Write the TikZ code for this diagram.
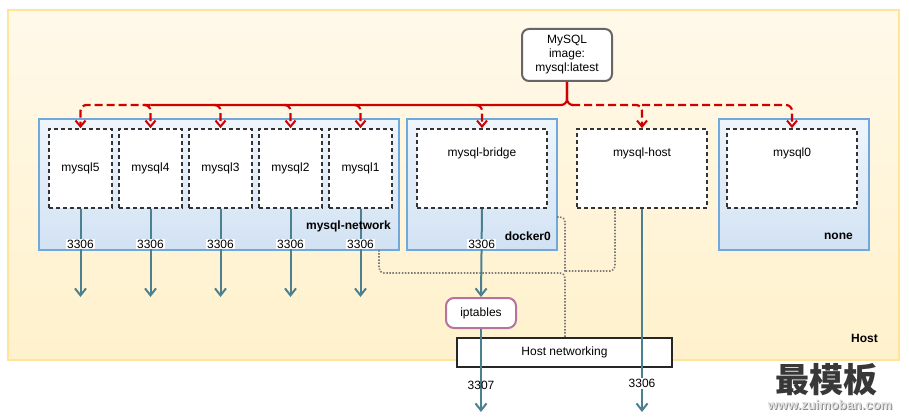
\documentclass[tikz,border=0pt]{standalone}
\usepackage{fontspec}
\setmainfont{Liberation Sans}
\newfontfamily\cjkfont{Noto Sans CJK SC}
\usetikzlibrary{arrows.meta}
\definecolor{hostT}{HTML}{FFF9EA}
\definecolor{hostB}{HTML}{FFF1CC}
\definecolor{hostS}{HTML}{FFE599}
\definecolor{netT}{HTML}{EFF5FC}
\definecolor{netB}{HTML}{D2E2F3}
\definecolor{netS}{HTML}{6FA8DC}
\definecolor{tealc}{HTML}{4A808F}
\definecolor{redc}{HTML}{D00000}
\definecolor{iptc}{HTML}{B5739D}
\definecolor{dotc}{HTML}{7A7A7A}
\begin{document}
\begin{tikzpicture}[x=1pt,y=-1pt,
  font=\fontsize{12}{14}\selectfont,
  hostbox/.style={draw=hostS, line width=2pt, top color=hostT, bottom color=hostB},
  netbox/.style={draw=netS, line width=2.2pt, top color=netT, bottom color=netB},
  ctr/.style={draw=black!80, fill=white, line width=1.8pt, dash pattern=on 4pt off 3pt, minimum width=63pt, minimum height=79pt, inner sep=0pt},
  wctr/.style={ctr, minimum width=130pt},
  boldlbl/.style={font=\fontsize{12}{14}\selectfont\bfseries, inner sep=0pt, anchor=east},
  tealarrow/.style={draw=tealc, line width=2pt, -{Straight Barb[length=7pt,width=11pt,line width=2pt]}},
  portlbl/.style={fill=white, inner sep=1pt, text=black},
  redsolid/.style={draw=redc, line width=2.2pt, rounded corners=6pt},
  reddash/.style={draw=redc, line width=2.2pt, rounded corners=6pt, dash pattern=on 8pt off 4pt, -{Straight Barb[length=6pt,width=10pt,line width=2pt]}},
  dotline/.style={draw=dotc, line width=1.6pt, dash pattern=on 1.5pt off 1.6pt, rounded corners=5pt}
]
\useasboundingbox (0,0) rectangle (909,417);
\fill[white] (0,0) rectangle (909,417);

% Host
\path[hostbox] (8,10) rectangle (899,360);

% network boxes
\path[netbox] (39,119) rectangle (399,250);
\path[netbox] (407,119) rectangle (557,250);
\path[netbox] (719,119) rectangle (869,250);

% containers
\node[ctr] (m5) at (80.5,168.5) {mysql5};
\node[ctr] (m4) at (150.5,168.5) {mysql4};
\node[ctr] (m3) at (220.5,168.5) {mysql3};
\node[ctr] (m2) at (290.5,168.5) {mysql2};
\node[ctr] (m1) at (360.5,168.5) {mysql1};
\node[wctr] (mb) at (482,168.5) {};
\node[inner sep=0pt] (mbl) at (482,153) {mysql-bridge};
\node[wctr] (mh) at (642,168.5) {};
\node[inner sep=0pt] (mhl) at (642,153) {mysql-host};
\node[wctr] (m0) at (792,168.5) {};
\node[inner sep=0pt] (m0l) at (792,153) {mysql0};

% image
\node[draw=black!60, line width=2pt, fill=white, rounded corners=7pt, minimum width=90pt, minimum height=52pt, align=center, inner sep=2pt] (img) at (567,55) {MySQL\\image:\\mysql:latest};

% red edges
\coordinate (bus) at (567,105);
\draw[redsolid] (img.south) -- (bus) -- (150.5,105);
\draw[reddash] (150.5,105) -- (80.5,105) -- (m5.north);
\draw[reddash] (144,105) -- (150.5,105) -- (m4.north);
\draw[reddash] (214,105) -- (220.5,105) -- (m3.north);
\draw[reddash] (284,105) -- (290.5,105) -- (m2.north);
\draw[reddash] (354,105) -- (360.5,105) -- (m1.north);
\draw[reddash] (476,105) -- (482,105) -- (mb.north);
\draw[redsolid] (img.south) -- (567,105) -- (572,105);
\draw[reddash] (572,105) -- (642,105) -- (mh.north);
\draw[reddash] (642,105) -- (792,105) -- (m0.north);

% host networking box
\node[draw=black!85, line width=2pt, fill=white, minimum width=215pt, minimum height=29pt, inner sep=0pt] (hn) at (564.5,352.5) {Host networking};

% iptables
\node[draw=iptc, line width=2pt, fill=white, rounded corners=8pt, minimum width=70pt, minimum height=30pt, inner sep=0pt] (ipt) at (481,313) {iptables};

% dotted lines
\coordinate (dj) at (565,273);
\draw[dotline] (379,250) -- (379,273) -- (565,273) -- (hn.north -| 565,0);
\draw[dotline] (557,217) -- (565,217) -- (565,273);
\draw[dotline] (615,208) -- (615,271) -- (565,271);

% teal arrows
\coordinate (a5) at (80.5,297);
\coordinate (a4) at (150.5,297);
\coordinate (a3) at (220.5,297);
\coordinate (a2) at (290.5,297);
\coordinate (a1) at (360.5,297);
\draw[tealarrow] (m5.south) -- (a5) node[portlbl, pos=0.4] (p5) {3306};
\draw[tealarrow] (m4.south) -- (a4) node[portlbl, pos=0.4] (p4) {3306};
\draw[tealarrow] (m3.south) -- (a3) node[portlbl, pos=0.4] (p3) {3306};
\draw[tealarrow] (m2.south) -- (a2) node[portlbl, pos=0.4] (p2) {3306};
\draw[tealarrow] (m1.south) -- (a1) node[portlbl, pos=0.4] (p1) {3306};
\draw[tealarrow] (mb.south) -- (ipt.north) node[portlbl, pos=0.4] (pb) {3306};
\coordinate (ab) at (481,412);
\coordinate (ah) at (642,412);
\draw[tealarrow] (ipt.south) -- (ab) node[inner sep=1pt, pos=0.68] (pb2) {3307};
\draw[tealarrow] (mh.south) -- (ah) node[portlbl, pos=0.86] (ph) {3306};

% bold labels
\node[boldlbl] (hostlbl) at (878,338) {Host};
\node[boldlbl] (netlbl) at (391,226) {mysql-network};
\node[boldlbl] (dockerlbl) at (551,236) {docker0};
\node[boldlbl] (nonelbl) at (853,236) {none};

% watermark
\node[font=\cjkfont\fontsize{34}{36}\selectfont\bfseries, text=black!78, inner sep=0pt] (wm) at (826,380) {最模板};
\node[font=\fontsize{13}{14}\selectfont\bfseries, text=black!45, inner sep=0pt] (wurls) at (831,406) {www.zuimoban.com};
\node[font=\fontsize{13}{14}\selectfont\bfseries, text=black!12, inner sep=0pt] (wurl) at (830,405) {www.zuimoban.com};
\end{tikzpicture}
\end{document}
